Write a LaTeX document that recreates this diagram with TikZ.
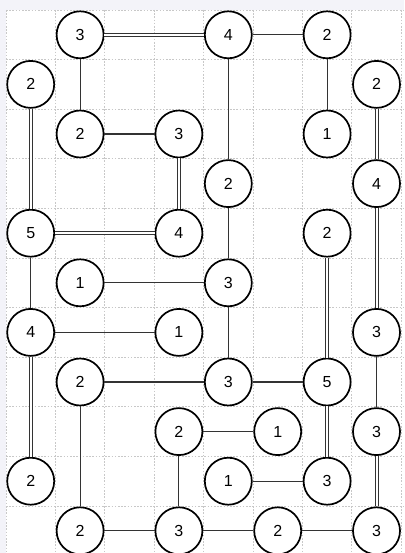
\documentclass[tikz,border=0pt]{standalone}
\usepackage{fontspec}
\setmainfont{Liberation Sans}
\definecolor{bgl}{HTML}{F3F3F9}
\definecolor{gridc}{HTML}{C8C8C8}
\definecolor{linec}{HTML}{333333}
\begin{document}
\begin{tikzpicture}[x=1pt,y=-1pt,
  isle/.style={circle,draw=black,fill=white,line width=1.7pt,minimum size=47pt,inner sep=0pt,font=\fontsize{16}{16}\selectfont},
  one/.style={line width=1.1pt,draw=linec},
  two/.style={double,double distance=2pt,line width=1pt,draw=linec},
  gridline/.style={gridc,line width=0.8pt,dash pattern=on 1.6pt off 1.6pt}]
\useasboundingbox (0,0) rectangle (404,553);
\fill[bgl] (0,0) rectangle (404,553);
\fill[white] (6,10) rectangle (404,553);
\foreach \i in {0,...,8} \draw[gridline] ({6+\i*49.4},10) -- ({6+\i*49.4},553);
\foreach \j in {0,...,10} \draw[gridline] (6,{10+\j*49.6}) -- (404,{10+\j*49.6});
\foreach \c/\r/\v in {1/0/3,4/0/4,6/0/2,
  0/1/2,7/1/2,
  1/2/2,3/2/3,6/2/1,
  4/3/2,7/3/4,
  0/4/5,3/4/4,6/4/2,
  1/5/1,4/5/3,
  0/6/4,3/6/1,7/6/3,
  1/7/2,4/7/3,6/7/5,
  3/8/2,5/8/1,7/8/3,
  0/9/2,4/9/1,6/9/3,
  1/10/2,3/10/3,5/10/2,7/10/3}
  \node[isle] (n\c-\r) at ({6+(\c+0.5)*49.4},{10+(\r+0.5)*49.6}) {\v};
% double bridges
\draw[two] (n1-0) -- (n4-0);
\draw[two] (n3-2) -- (n3-4);
\draw[two] (n0-1) -- (n0-4);
\draw[two] (n0-4) -- (n3-4);
\draw[two] (n7-1) -- (n7-3);
\draw[two] (n7-3) -- (n7-6);
\draw[two] (n0-6) -- (n0-9);
\draw[two] (n6-4) -- (n6-7);
\draw[two] (n6-7) -- (n6-9);
\draw[two] (n7-8) -- (n7-10);
% single bridges
\draw[one] (n4-0) -- (n6-0);
\draw[one] (n1-0) -- (n1-2);
\draw[one] (n1-2) -- (n3-2);
\draw[one] (n4-0) -- (n4-3);
\draw[one] (n6-0) -- (n6-2);
\draw[one] (n4-3) -- (n4-5);
\draw[one] (n1-5) -- (n4-5);
\draw[one] (n0-4) -- (n0-6);
\draw[one] (n0-6) -- (n3-6);
\draw[one] (n4-5) -- (n4-7);
\draw[one] (n1-7) -- (n4-7);
\draw[one] (n4-7) -- (n6-7);
\draw[one] (n7-6) -- (n7-8);
\draw[one] (n1-7) -- (n1-10);
\draw[one] (n3-8) -- (n5-8);
\draw[one] (n3-8) -- (n3-10);
\draw[one] (n4-9) -- (n6-9);
\draw[one] (n1-10) -- (n3-10);
\draw[one] (n3-10) -- (n5-10);
\draw[one] (n5-10) -- (n7-10);
\end{tikzpicture}
\end{document}
